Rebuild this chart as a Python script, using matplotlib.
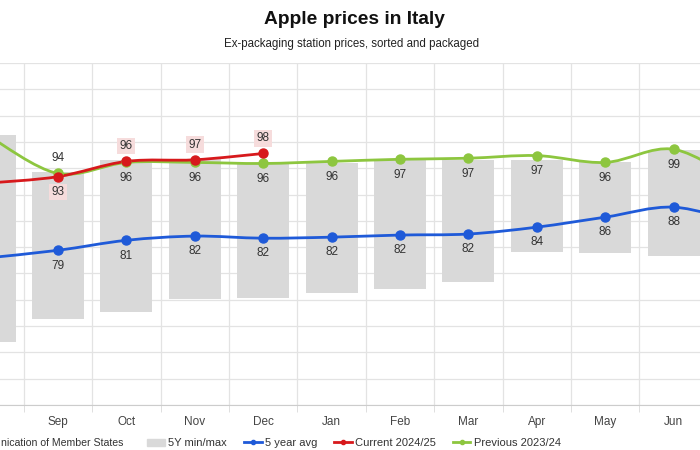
import numpy as np
import matplotlib
matplotlib.use("Agg")
import matplotlib.pyplot as plt
from matplotlib.path import Path
from matplotlib.patches import PathPatch, Patch
from matplotlib.lines import Line2D

plt.rcParams['font.family'] = ['Liberation Sans', 'DejaVu Sans']

months = ['Aug', 'Sep', 'Oct', 'Nov', 'Dec', 'Jan', 'Feb', 'Mar', 'Apr', 'May', 'Jun', 'Jul']

# 5 year min / max range
range_min = [62.0, 66.3, 67.7, 70.1, 70.3, 71.3, 72.0, 73.4, 79.0, 78.9, 78.3, 76.0]
range_max = [101.3, 94.2, 96.5, 96.7, 95.9, 96.0, 96.5, 96.5, 96.5, 96.1, 98.4, 97.0]

avg_5y = [78.0, 79.4, 81.3, 82.1, 81.7, 81.9, 82.3, 82.5, 83.8, 85.7, 87.6, 84.5]
current = [92.2, 93.4, 96.3, 96.6, 97.8]
previous = [101.0, 94.0, 96.1, 96.1, 95.9, 96.3, 96.7, 96.9, 97.4, 96.1, 98.6, 92.0]

c_blue = '#1f5ad8'
c_red = '#d7191c'
c_green = '#8dc63f'
c_bar = '#d9d9d9'

xmin, xmax = 0.152, 10.386


def smooth_path(x, y):
    # catmull-rom style bezier through the points (like a smoothed line)
    x = np.asarray(x, float)
    y = np.asarray(y, float)
    px = np.concatenate([[x[0]], x, [x[-1]]])
    py = np.concatenate([[y[0]], y, [y[-1]]])
    verts = [(x[0], y[0])]
    codes = [Path.MOVETO]
    for i in range(1, len(px) - 2):
        c1 = (px[i] + (px[i + 1] - px[i - 1]) / 6, py[i] + (py[i + 1] - py[i - 1]) / 6)
        c2 = (px[i + 1] - (px[i + 2] - px[i]) / 6, py[i + 1] - (py[i + 2] - py[i]) / 6)
        verts += [c1, c2, (px[i + 1], py[i + 1])]
        codes += [Path.CURVE4] * 3
    return Path(verts, codes)


fig = plt.figure(figsize=(7, 4.5), dpi=100)
ax = fig.add_axes([0, 0.1, 1, 0.76])

idx = np.arange(len(months))
ax.bar(idx, np.array(range_max) - np.array(range_min), bottom=range_min,
       width=0.76, color=c_bar, zorder=2)

for vals, col in [(avg_5y, c_blue), (previous, c_green), (current, c_red)]:
    xs = np.arange(len(vals))
    ax.add_patch(PathPatch(smooth_path(xs, vals), facecolor='none', edgecolor=col,
                           lw=2.0, zorder=4, capstyle='round'))
    ax.plot(xs, vals, linestyle='none', marker='o', ms=6.5, color=col, zorder=5)


def label(i, v, above, boxed=False):
    if not (xmin < i < xmax):
        return
    off = 11 if above else -11
    kw = {}
    if boxed:
        kw['bbox'] = dict(boxstyle='square,pad=0.2', fc='#f6dcdc', ec='none')
    ax.annotate(f"{v:.0f}", (i, v), xytext=(0, off), textcoords='offset points',
                ha='center', va='center', fontsize=8.5, color='#333333', zorder=6, **kw)


for i, v in enumerate(avg_5y):
    label(i, v, above=False)
for i, v in enumerate(previous):
    label(i, v, above=(i == 1))
for i, v in enumerate(current):
    label(i, v, above=(i != 1), boxed=True)

ax.set_yticks(np.arange(50, 116, 5))
ax.set_xticks(idx)
ax.set_xticklabels(months, fontsize=8.5, color='#444444')
ax.set_xticks(idx[:-1] + 0.5, minor=True)
ax.set_xlim(xmin, xmax)
ax.set_ylim(50, 115)
ax.tick_params(axis='x', which='major', length=0, pad=8)
ax.tick_params(axis='x', which='minor', length=5, color='#d9d9d9')
ax.tick_params(axis='y', length=0, labelleft=False)
ax.grid(axis='y', color='#e3e3e3', lw=0.9, zorder=0)
ax.grid(axis='x', which='minor', color='#e3e3e3', lw=0.9, zorder=0)
for s in ['left', 'right', 'top']:
    ax.spines[s].set_visible(False)
ax.spines['bottom'].set_color('#cccccc')

fig.text(354 / 700, 1 - 20 / 450, 'Apple prices in Italy', ha='center', va='center',
         fontsize=13.8, fontweight='bold', color='#111111')
fig.text(352 / 700, 1 - 44 / 450, 'Ex-packaging station prices, sorted and packaged',
         ha='center', va='center', fontsize=8.3, color='#222222')

# source note, cut at the left edge in the original
fig.text(1 / 700, 1 - 443 / 450, 'nication of Member States',
         ha='left', va='center', fontsize=7.6, color='#333333')

handles = [Patch(color=c_bar, label='5Y min/max'),
           Line2D([], [], color=c_blue, marker='o', ms=3, lw=2, label='5 year avg'),
           Line2D([], [], color=c_red, marker='o', ms=3, lw=2, label='Current 2024/25'),
           Line2D([], [], color=c_green, marker='o', ms=3, lw=2, label='Previous 2023/24')]
fig.legend(handles=handles, loc='center', bbox_to_anchor=(354 / 700, 1 - 443 / 450),
           ncol=4, frameon=False, fontsize=8, handlelength=1.6, handleheight=0.6,
           handletextpad=0.3, columnspacing=1.5, labelcolor='#333333')

fig.savefig('out.png', dpi=100)
